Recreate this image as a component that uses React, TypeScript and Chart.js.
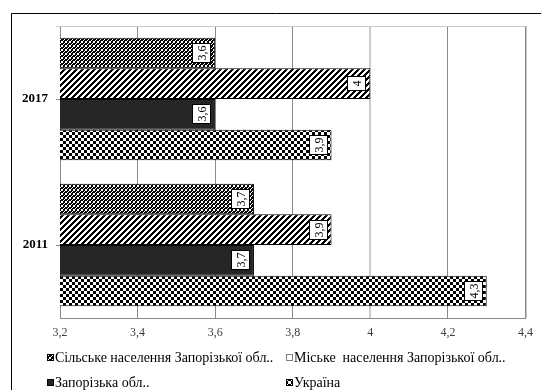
import { useEffect, useRef } from 'react';
import { Chart, registerables } from 'chart.js';

Chart.register(...registerables);

// Categories (top to bottom)
const years = ['2017', '2011'];

// Series values
const ruralZp = [3.6, 3.7];
const urbanZp = [4.0, 3.9];
const zpRegion = [3.6, 3.7];
const ukraine = [3.9, 4.3];

const seriesNames = [
  'Сільське населення Запорізької обл..',
  'Міське  населення Запорізької обл..',
  'Запорізька обл..',
  'Україна',
];

// Value axis
const xMin = 3.2;
const xMax = 4.4;
const xStep = 0.2;

const SERIF = "'Liberation Serif', 'Times New Roman', serif";

const fmt = (v: number) => String(Math.round(v * 10) / 10).replace('.', ',');

function makePattern(map: string[], fg: string, bg: string): CanvasPattern {
  const h = map.length;
  const w = map[0].length;
  const c = document.createElement('canvas');
  c.width = w;
  c.height = h;
  const g = c.getContext('2d')!;
  g.fillStyle = bg;
  g.fillRect(0, 0, w, h);
  g.fillStyle = fg;
  for (let y = 0; y < h; y++) {
    for (let x = 0; x < w; x++) {
      if (map[y][x] === 'X') g.fillRect(x, y, 1, 1);
    }
  }
  return g.createPattern(c, 'repeat')!;
}

function stripeMap(size: number, dark: number): string[] {
  const rows: string[] = [];
  for (let y = 0; y < size; y++) {
    let r = '';
    for (let x = 0; x < size; x++) r += (x + y) % size < dark ? 'X' : '.';
    rows.push(r);
  }
  return rows;
}

export default function App() {
  const ref = useRef<HTMLCanvasElement | null>(null);

  useEffect(() => {
    const canvas = ref.current;
    if (!canvas) return;

    const ringFill = makePattern(['XXX.', 'X..X', 'X..X', '.XXX'], '#000', '#fff');
    const stripeFill = makePattern(stripeMap(6, 3), '#000', '#fff');
    const checkFill = makePattern(
      ['XXX...', 'XXX...', 'XXX...', '...XXX', '...XXX', '...XXX'],
      '#000',
      '#fff'
    );
    const solidFill = '#262626';
    const markerFills: (string | CanvasPattern)[] = [ringFill, '#fff', solidFill, checkFill];
    const markerBorders = ['#000', '#7f7f7f', '#000', '#000'];

    const framePlugin = {
      id: 'frame',
      beforeDraw(chart: Chart) {
        const ctx = chart.ctx;
        ctx.save();
        ctx.fillStyle = '#fff';
        ctx.fillRect(0, 0, chart.width, chart.height);
        ctx.strokeStyle = '#000';
        ctx.lineWidth = 1;
        ctx.beginPath();
        ctx.moveTo(11.5, chart.height);
        ctx.lineTo(11.5, 13.5);
        ctx.lineTo(chart.width, 13.5);
        ctx.stroke();
        ctx.restore();
      },
      afterDraw(chart: Chart) {
        const { ctx, chartArea } = chart;
        ctx.save();
        ctx.strokeStyle = '#c8c8c8';
        ctx.lineWidth = 1;
        ctx.beginPath();
        ctx.moveTo(chartArea.left - 4, Math.round(chartArea.top) + 0.5);
        ctx.lineTo(chartArea.right, Math.round(chartArea.top) + 0.5);
        ctx.stroke();
        ctx.restore();
      },
    };

    const valueLabels = {
      id: 'valueLabels',
      afterDatasetsDraw(chart: Chart) {
        const ctx = chart.ctx;
        ctx.save();
        ctx.font = `12px ${SERIF}`;
        chart.data.datasets.forEach((ds, di) => {
          const meta = chart.getDatasetMeta(di);
          meta.data.forEach((el: any, i: number) => {
            const text = fmt(ds.data[i] as number);
            const tw = ctx.measureText(text).width;
            const bw = 19;
            const bh = Math.max(tw + 5, 15);
            const right = Math.round(el.x) - 4;
            const left = right - bw;
            const top = Math.round(el.y - bh / 2);
            ctx.fillStyle = '#fff';
            ctx.fillRect(left, top, bw, bh);
            ctx.strokeStyle = '#000';
            ctx.lineWidth = 1;
            ctx.strokeRect(left + 0.5, top + 0.5, bw - 1, bh - 1);
            ctx.save();
            ctx.translate(left + bw / 2, top + bh / 2);
            ctx.rotate(-Math.PI / 2);
            ctx.fillStyle = '#000';
            ctx.textAlign = 'center';
            ctx.textBaseline = 'middle';
            ctx.fillText(text, 0, 1);
            ctx.restore();
          });
        });
        ctx.restore();
      },
    };

    const legendPlugin = {
      id: 'gridLegend',
      afterDraw(chart: Chart) {
        const ctx = chart.ctx;
        const cols = [47, 286];
        const rows = [357, 382];
        ctx.save();
        ctx.font = `14px ${SERIF}`;
        ctx.textBaseline = 'middle';
        ctx.textAlign = 'left';
        chart.data.datasets.forEach((ds, di) => {
          const x = cols[di % 2];
          const y = rows[Math.floor(di / 2)];
          ctx.fillStyle = markerFills[di] as any;
          ctx.fillRect(x, y - 3, 7, 7);
          ctx.strokeStyle = markerBorders[di];
          ctx.lineWidth = 1;
          ctx.strokeRect(x + 0.5, y - 2.5, 6, 6);
          ctx.fillStyle = '#000';
          ctx.fillText(String(ds.label), x + 8, y + 1);
        });
        ctx.restore();
      },
    };

    const gridColor = (c: any) => {
      const v = c.tick ? c.tick.value : 0;
      if (Math.abs(v - 4) < 1e-6) return '#cccccc';
      return '#8a8a8a';
    };
    const gridWidth = (c: any) => {
      const v = c.tick ? c.tick.value : 0;
      if (Math.abs(v - 4) < 1e-6) return 2;
      if (Math.abs(v - xMax) < 1e-6) return 1.5;
      return 1;
    };

    const chart = new Chart(canvas, {
      type: 'bar',
      data: {
        labels: years,
        datasets: [
          { label: seriesNames[0], data: ruralZp, backgroundColor: ringFill },
          { label: seriesNames[1], data: urbanZp, backgroundColor: stripeFill },
          { label: seriesNames[2], data: zpRegion, backgroundColor: solidFill },
          { label: seriesNames[3], data: ukraine, backgroundColor: checkFill },
        ].map((d) => ({
          ...d,
          borderColor: '#000',
          borderWidth: 1,
          borderSkipped: false,
          barPercentage: 1,
          categoryPercentage: 0.84,
        })) as any,
      },
      options: {
        indexAxis: 'y',
        responsive: false,
        animation: false,
        events: [],
        layout: { padding: { top: 26, right: 10, left: 0, bottom: 40 } },
        plugins: {
          legend: { display: false },
          tooltip: { enabled: false },
        },
        scales: {
          x: {
            min: xMin,
            max: xMax,
            ticks: {
              stepSize: xStep,
              callback: (v: any) => fmt(Number(v)),
              font: { family: SERIF, size: 12 },
              color: '#404040',
              padding: 8,
              maxRotation: 0,
            },
            grid: { color: gridColor, lineWidth: gridWidth, drawTicks: false },
            border: { color: '#8a8a8a' },
            afterFit: (s: any) => {
              s.height = 32;
            },
          },
          y: {
            ticks: {
              font: { family: SERIF, size: 13, weight: 'bold' },
              color: '#000',
              padding: 8,
            },
            grid: {
              drawOnChartArea: false,
              offset: false,
              tickLength: 4,
              color: '#8a8a8a',
            },
            border: { color: '#8a8a8a' },
            afterFit: (s: any) => {
              s.width = 60;
            },
          },
        },
      } as any,
      plugins: [framePlugin, valueLabels, legendPlugin],
    });

    return () => chart.destroy();
  }, []);

  return (
    <div style={{ position: 'absolute', left: 0, top: 0, width: 541, height: 390 }}>
      <canvas ref={ref} width={541} height={390} style={{ display: 'block' }} />
    </div>
  );
}
